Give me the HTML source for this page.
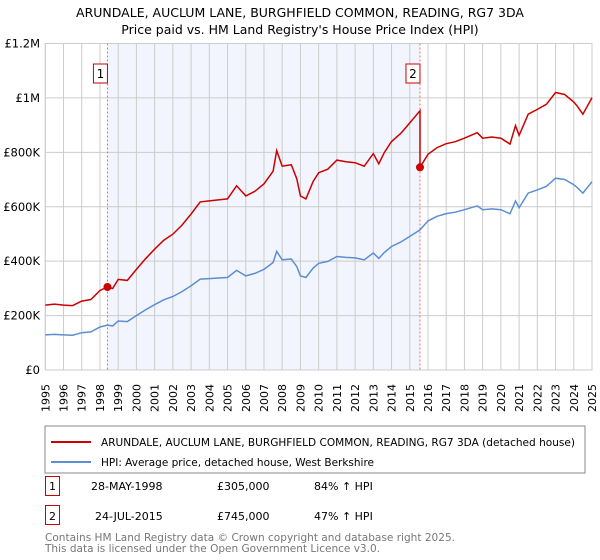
<!DOCTYPE html>
<html><head><meta charset="utf-8"><style>
body{margin:0;background:#fff;font-family:"Liberation Sans","DejaVu Sans",sans-serif;}
#wrap{position:relative;width:600px;height:560px;overflow:hidden}
</style></head><body><div id="wrap">
<svg id="svg" width="600" height="560" xmlns="http://www.w3.org/2000/svg" font-family="DejaVu Sans, Liberation Sans, sans-serif">
<text x="300" y="17" text-anchor="middle" font-size="12.5">ARUNDALE, AUCLUM LANE, BURGHFIELD COMMON, READING, RG7 3DA</text>
<text x="300" y="34" text-anchor="middle" font-size="12.5">Price paid vs. HM Land Registry's House Price Index (HPI)</text>
<g id="grid"></g><g id="marks"></g><g id="axes"></g>
<rect x="45" y="426" width="540" height="47" fill="#fff" stroke="#888"/>
<line x1="51" y1="442" x2="91" y2="442" stroke="#cc0000" stroke-width="2"/>
<text x="101" y="446" font-size="11" textLength="474" lengthAdjust="spacingAndGlyphs">ARUNDALE, AUCLUM LANE, BURGHFIELD COMMON, READING, RG7 3DA (detached house)</text>
<line x1="51" y1="462" x2="91" y2="462" stroke="#5b8fd0" stroke-width="2"/>
<text x="101" y="466" font-size="11" textLength="273" lengthAdjust="spacingAndGlyphs">HPI: Average price, detached house, West Berkshire</text>
<g font-size="11">
<rect x="45.5" y="476.5" width="14" height="19" fill="#fff" stroke="#cc0000"/><text x="52.5" y="490" text-anchor="middle">1</text>
<text x="91" y="490">28-MAY-1998</text><text x="217" y="490">£305,000</text><text x="314" y="490">84% ↑ HPI</text></g>
<g font-size="11">
<rect x="45.5" y="505.5" width="14" height="19" fill="#fff" stroke="#cc0000"/><text x="52.5" y="520" text-anchor="middle">2</text>
<text x="95" y="520">24-JUL-2015</text><text x="217" y="520">£745,000</text><text x="314" y="520">47% ↑ HPI</text></g>
<text x="45" y="541" font-size="11" fill="#777" textLength="410" lengthAdjust="spacingAndGlyphs">Contains HM Land Registry data © Crown copyright and database right 2025.</text>
<text x="45" y="552" font-size="11" fill="#777" textLength="335" lengthAdjust="spacingAndGlyphs">This data is licensed under the Open Government Licence v3.0.</text>
</svg></div>
<script>
const hpiYears=[1995,1995.5,1996,1996.5,1997,1997.5,1998,1998.4,1998.7,1999,1999.5,2000,2000.5,2001,2001.5,2002,2002.5,2003,2003.5,2004,2004.5,2005,2005.5,2006,2006.5,2007,2007.5,2007.7,2008,2008.5,2008.8,2009,2009.3,2009.7,2010,2010.5,2011,2011.5,2012,2012.5,2013,2013.3,2013.6,2014,2014.5,2015,2015.56,2016,2016.5,2017,2017.5,2018,2018.7,2019,2019.5,2020,2020.5,2020.8,2021,2021.5,2022,2022.5,2023,2023.5,2024,2024.2,2024.5,2025];
const hpiValues=[129000,131000,129000,128000,137000,140000,158000,165000,162000,180000,178000,200000,221000,240000,258000,270000,288000,310000,334000,336000,338000,340000,366000,346000,355000,370000,395000,436000,405000,408000,380000,346000,340000,375000,392000,399000,417000,414000,412000,405000,430000,410000,432000,454000,470000,491000,515000,548000,565000,575000,580000,589000,603000,589000,592000,589000,574000,621000,596000,650000,662000,675000,705000,700000,681000,670000,650000,692000];
const saleYears=[1998.41,2015.56];
const salePrices=[305000,745000];
const yTicks=[0,200000,400000,600000,800000,1000000,1200000];
const yTickLabels=["£0","£200K","£400K","£600K","£800K","£1M","£1.2M"];
const xTicks=[];for(let y=1995;y<=2025;y++)xTicks.push(y);
const X0=45.3,X1=592,YB=370,YT=43.5;
const xs=t=>X0+(t-1995)/30*(X1-X0);
const ys=v=>YB-v/1200000*(YB-YT);
const NS="http://www.w3.org/2000/svg";
function mk(tag,parent,attrs){const e=document.createElementNS(NS,tag);for(const k in attrs)e.setAttribute(k,attrs[k]);parent.appendChild(e);return e;}
const grid=document.getElementById('grid'),marks=document.getElementById('marks'),axes=document.getElementById('axes');
function interp(t){for(let i=1;i<hpiYears.length;i++){if(t<=hpiYears[i]){const a=hpiYears[i-1],b=hpiYears[i];return hpiValues[i-1]+(hpiValues[i]-hpiValues[i-1])*(t-a)/(b-a);}}return hpiValues[hpiValues.length-1];}
const sh=mk('rect',grid,{x:xs(saleYears[0]),y:YT,width:xs(saleYears[1])-xs(saleYears[0]),height:YB-YT,fill:'#f2f5fd'});


xTicks.forEach(t=>{const l=mk('line',grid,{x1:xs(t),x2:xs(t),y1:YT,y2:YB,stroke:'#cccccc'});


const tx=mk('text',axes,{transform:`translate(${xs(t)+4},384) rotate(-90)`,'text-anchor':'end','font-size':'11'});tx.textContent=t;

});
yTicks.forEach((v,i)=>{const l=mk('line',grid,{x1:X0,x2:X1,y1:ys(v),y2:ys(v),stroke:'#cccccc'});


const tx=mk('text',axes,{x:40,y:ys(v)+4,'text-anchor':'end','font-size':'11.5'});tx.textContent=yTickLabels[i];

});
const fr=mk('rect',grid,{x:X0,y:YT,width:X1-X0,height:YB-YT,fill:'none',stroke:'#cccccc'});


saleYears.forEach((t,i)=>{const l=mk('line',grid,{x1:xs(t),x2:xs(t),y1:YT,y2:YB,stroke:'#ff6666','stroke-dasharray':'2,2'});


const bx=xs(t)-8;const r=mk('rect',axes,{x:bx-6,y:64,width:14,height:19,fill:'#fff',stroke:'#cc0000'});


const tx=mk('text',axes,{x:bx+1,y:78,'text-anchor':'middle','font-size':'12'});tx.textContent=String(i+1);

});
const hp=hpiYears.map((t,i)=>`${xs(t).toFixed(1)},${ys(hpiValues[i]).toFixed(1)}`).join(' ');
const hl=mk('polyline',marks,{points:hp,fill:'none',stroke:'#5b8fd0','stroke-width':1.5});


const f1=salePrices[0]/interp(saleYears[0]),f2=salePrices[1]/interp(saleYears[1]);
const pp=[];hpiYears.forEach((t,i)=>{if(t<saleYears[1])pp.push([t,hpiValues[i]*f1]);});
pp.push([saleYears[1],interp(saleYears[1])*f1]);pp.push([saleYears[1],salePrices[1]]);
hpiYears.forEach((t,i)=>{if(t>saleYears[1])pp.push([t,hpiValues[i]*f2]);});
const pl=mk('polyline',marks,{points:pp.map(p=>`${xs(p[0]).toFixed(1)},${ys(p[1]).toFixed(1)}`).join(' '),fill:'none',stroke:'#cc0000','stroke-width':1.5});


saleYears.forEach((t,i)=>{const c=mk('circle',marks,{cx:xs(t),cy:ys(salePrices[i]),r:4,fill:'#cc0000'});

});
</script></body></html>
